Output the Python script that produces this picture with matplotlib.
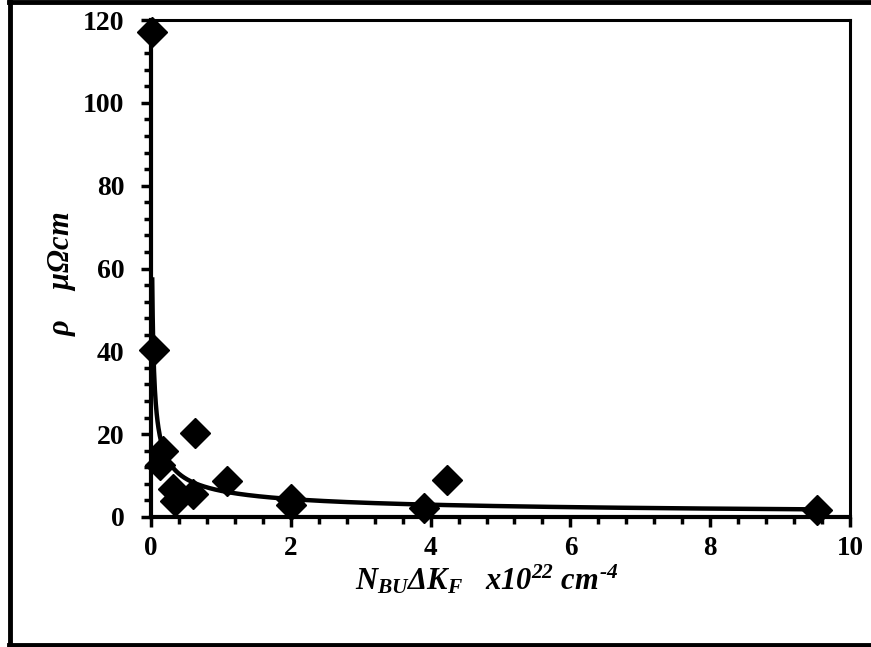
import numpy as np
import matplotlib
matplotlib.use("Agg")
import matplotlib.pyplot as plt
from matplotlib.lines import Line2D

plt.rcParams["font.family"] = "Liberation Serif"
plt.rcParams["font.weight"] = "bold"
plt.rcParams["mathtext.fontset"] = "custom"
plt.rcParams["mathtext.rm"] = "Liberation Serif:bold:italic"
plt.rcParams["mathtext.it"] = "Liberation Serif:bold:italic"
plt.rcParams["mathtext.bf"] = "Liberation Serif:bold:italic"
plt.rcParams["mathtext.default"] = "it"

# N_BU * dK_F (x1e22 cm^-4) vs resistivity (micro-ohm cm)
x_vals = [0.02, 0.04, 0.13, 0.17, 0.32, 0.34, 0.60, 0.63, 1.09, 2.0, 2.0, 3.9, 4.24, 9.53]
rho_vals = [117.2, 40.3, 12.6, 15.9, 6.8, 3.8, 5.6, 20.4, 8.7, 4.3, 3.0, 2.2, 9.0, 1.7]

# power-law trendline, fitted in log-log like the Excel one
b, ln_a = np.polyfit(np.log(x_vals), np.log(rho_vals), 1)
xfit = np.linspace(0.005, 9.53, 1500)
yfit = np.exp(ln_a) * xfit ** b

fig = plt.figure(figsize=(8.71, 6.47), dpi=100)
ax = fig.add_axes([151 / 871, 1 - 517 / 647, 699 / 871, 497 / 647])

mask = yfit <= 61
ax.plot(xfit[mask], yfit[mask], color="black", lw=3.2, zorder=2)
ax.plot(x_vals, rho_vals, linestyle="none", marker="D", ms=15,
        color="black", zorder=3, clip_on=False)

ax.set_xlim(0, 10)
ax.set_ylim(0, 120)
ax.set_xticks(np.arange(0, 11, 2))
ax.set_xticks(np.arange(0, 10.01, 0.4), minor=True)
ax.set_yticks(np.arange(0, 121, 20))
ax.set_yticks(np.arange(0, 120.1, 4), minor=True)

for s in ax.spines.values():
    s.set_linewidth(2.2)
ax.spines["left"].set_linewidth(3.0)
ax.spines["bottom"].set_linewidth(3.0)

ax.tick_params(which="major", direction="out", length=7, width=2.5)
ax.tick_params(which="minor", direction="out", length=5, width=2.5)
ax.tick_params(axis="x", which="major", pad=7, labelsize=19.5)
ax.tick_params(axis="y", which="major", pad=12, labelsize=20)
for lab in ax.get_xticklabels() + ax.get_yticklabels():
    lab.set_fontweight("bold")

ax.set_xlabel("$N_{BU}\\Delta K_F$   $x10^{22}$ $cm^{\u20104}$", fontsize=22)
ax.xaxis.set_label_coords(0.48, -0.092)
ax.set_ylabel(r"$\rho$    $\mu\Omega cm$", fontsize=22)
ax.yaxis.set_label_coords(-0.105, 0.49)

# outer chart frame
fig.add_artist(Line2D([10 / 871, 10 / 871], [0, 1], color="black", lw=3.5,
                      transform=fig.transFigure))
fig.add_artist(Line2D([0.01, 1], [1 - 2 / 647, 1 - 2 / 647], color="black", lw=3.5,
                      transform=fig.transFigure))
fig.add_artist(Line2D([0.01, 1], [2 / 647, 2 / 647], color="black", lw=3.5,
                      transform=fig.transFigure))

fig.savefig("out.png", dpi=100)
